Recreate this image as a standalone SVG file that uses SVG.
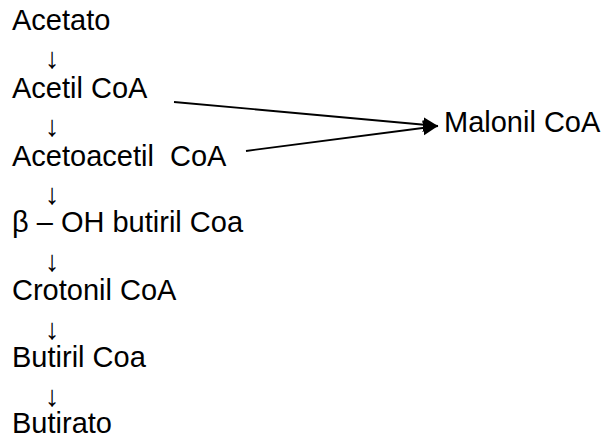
<svg xmlns="http://www.w3.org/2000/svg" width="603" height="437" viewBox="0 0 603 437">
  <style>
    .lbl { font-family: "Liberation Sans", Arial, sans-serif; font-size: 29px; fill: #000; white-space: pre; }
    .step { font-family: "Liberation Sans", Arial, sans-serif; font-size: 29px; fill: #000; text-anchor: middle; }
    .link { stroke: #000; stroke-width: 1.8; fill: none; marker-end: url(#head); }
  </style>
  <defs>
    <marker id="head" markerUnits="userSpaceOnUse" markerWidth="16" markerHeight="16" refX="15" refY="7.5" orient="auto">
      <path d="M0,0 L15,7.5 L0,15 Z" fill="#000"/>
    </marker>
  </defs>
  <rect width="603" height="437" fill="#fff"/>

  <g id="acetato"><text class="lbl" x="12" y="30">Acetato</text></g>
  <g id="acetil-coa"><text class="lbl" x="12" y="98">Acetil CoA</text></g>
  <g id="acetoacetil-coa"><text class="lbl" x="12" y="166">Acetoacetil  CoA</text></g>
  <g id="oh-butiril-coa"><text class="lbl" x="12" y="232">β – OH butiril Coa</text></g>
  <g id="crotonil-coa"><text class="lbl" x="12" y="300">Crotonil CoA</text></g>
  <g id="butiril-coa"><text class="lbl" x="12" y="367">Butiril Coa</text></g>
  <g id="butirato"><text class="lbl" x="12" y="433">Butirato</text></g>
  <g id="malonil-coa"><text class="lbl" x="444" y="132">Malonil CoA</text></g>

  <g id="connectors">
    <text class="step" x="52" y="68">↓</text>
    <text class="step" x="52" y="136">↓</text>
    <text class="step" x="52" y="204">↓</text>
    <text class="step" x="52" y="271">↓</text>
    <text class="step" x="52" y="339">↓</text>
    <text class="step" x="52" y="406">↓</text>
    <line class="link" x1="174" y1="102" x2="438" y2="126"/>
    <line class="link" x1="246" y1="151" x2="438" y2="126"/>
  </g>
</svg>
